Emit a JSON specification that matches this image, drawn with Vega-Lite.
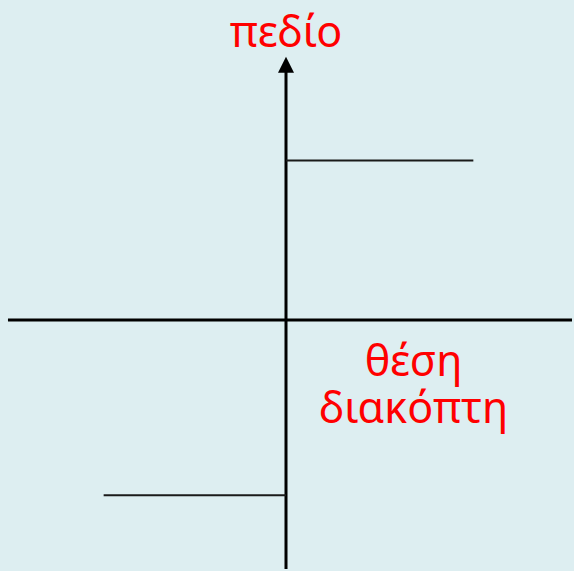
{
  "$schema": "https://vega.github.io/schema/vega-lite/v6.json",
  "width": 574,
  "height": 571,
  "padding": 0,
  "autosize": {"type": "fit", "contains": "padding"},
  "background": "#ddeef1",
  "config": {"view": {"stroke": null}},
  "datasets": {
    "segments": [
      {"kind": "axis", "x1": -279, "x2": 287, "y1": 0, "y2": 0},
      {"kind": "axis", "x1": 0, "x2": 0, "y1": -250, "y2": 250},
      {"kind": "curve", "x1": 0, "x2": 188, "y1": 160, "y2": 160},
      {"kind": "curve", "x1": -183, "x2": 0, "y1": -176, "y2": -176}
    ],
    "arrow": [{"x": 0, "y": 256}],
    "labels": [
      {"label": "πεδίο", "x": 0, "y": 274},
      {"label": "θέση\nδιακόπτη", "x": 128, "y": -56}
    ]
  },
  "layer": [
    {
      "data": {"name": "segments"},
      "mark": {"type": "rule", "color": "#000000"},
      "encoding": {
        "x": {"field": "x1", "type": "quantitative", "scale": {"domain": [-287, 287], "nice": false, "zero": false}, "axis": null},
        "x2": {"field": "x2"},
        "y": {"field": "y1", "type": "quantitative", "scale": {"domain": [-250, 321], "nice": false, "zero": false}, "axis": null},
        "y2": {"field": "y2"},
        "strokeWidth": {"field": "kind", "type": "nominal", "scale": {"domain": ["axis", "curve"], "range": [3, 2]}, "legend": null},
        "color": {"field": "kind", "type": "nominal", "scale": {"domain": ["axis", "curve"], "range": ["#000000", "#1a1a1a"]}, "legend": null}
      }
    },
    {
      "data": {"name": "arrow"},
      "mark": {"type": "point", "shape": "M0,-1L1,1L-1,1Z", "filled": true, "color": "#000000", "opacity": 1, "size": 256},
      "encoding": {
        "x": {"field": "x", "type": "quantitative"},
        "y": {"field": "y", "type": "quantitative"}
      }
    },
    {
      "data": {"name": "labels"},
      "mark": {"type": "text", "color": "#ff0000", "font": "Noto Sans", "fontSize": 43, "baseline": "alphabetic", "align": "center", "lineBreak": "\n", "lineHeight": 47},
      "encoding": {
        "x": {"field": "x", "type": "quantitative"},
        "y": {"field": "y", "type": "quantitative"},
        "text": {"field": "label"}
      }
    }
  ]
}
